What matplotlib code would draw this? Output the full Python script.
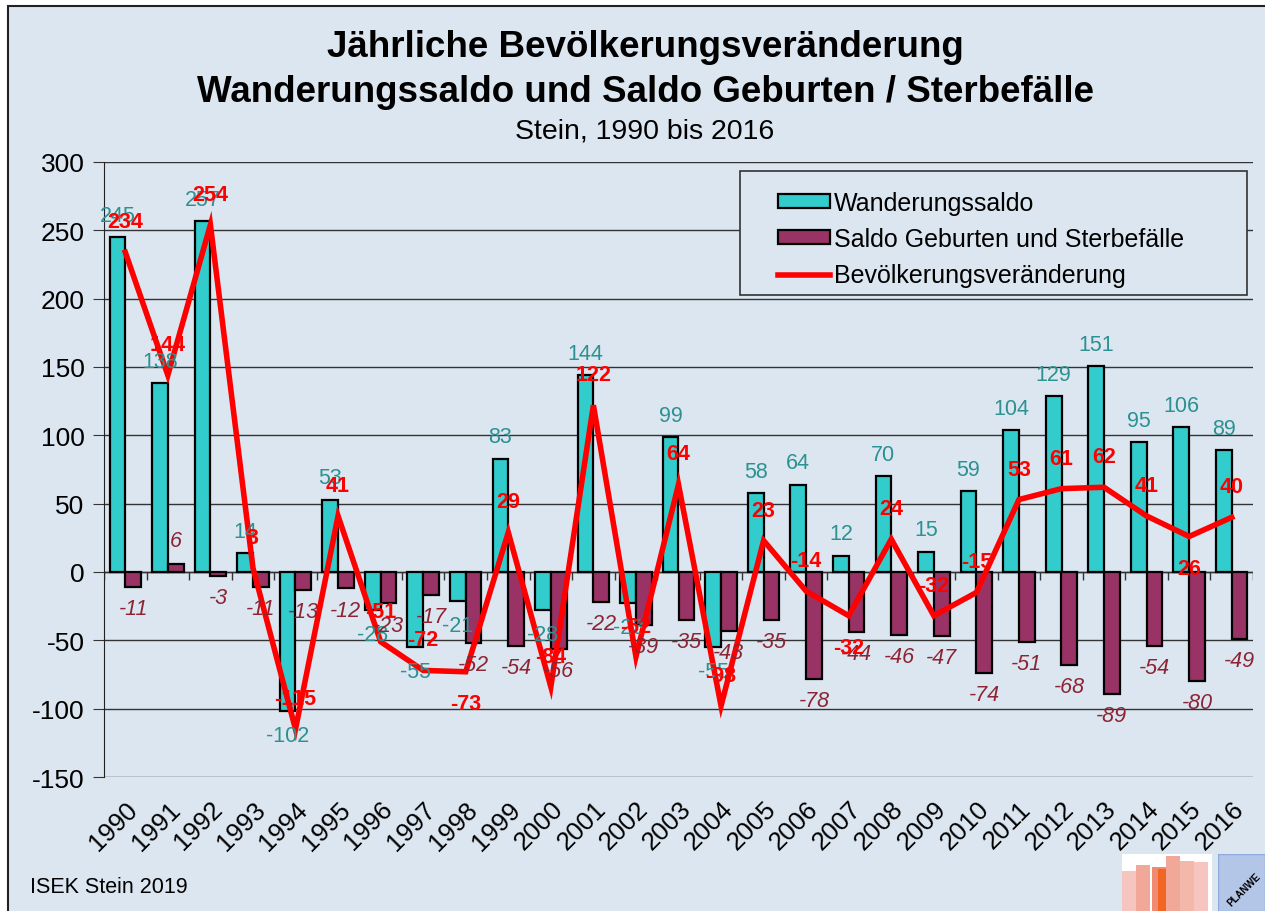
import numpy as np
import matplotlib
matplotlib.use("Agg")
import matplotlib.pyplot as plt
from matplotlib.patches import Rectangle
from matplotlib.lines import Line2D

plt.rcParams['font.family'] = ['Liberation Sans', 'DejaVu Sans']
plt.rcParams['axes.unicode_minus'] = False

years = list(range(1990, 2017))
wanderung = [245, 138, 257, 14, -102, 53, -28, -55, -21, 83, -28, 144, -23, 99,
             -55, 58, 64, 12, 70, 15, 59, 104, 129, 151, 95, 106, 89]
natuerlich = [-11, 6, -3, -11, -13, -12, -23, -17, -52, -54, -56, -22, -39, -35,
              -43, -35, -78, -44, -46, -47, -74, -51, -68, -89, -54, -80, -49]
veraenderung = [234, 144, 254, 3, -115, 41, -51, -72, -73, 29, -84, 122, -62, 64,
                -98, 23, -14, -32, 24, -32, -15, 53, 61, 62, 41, 26, 40]
# line labels that sit below the point instead of above
below_labels = [1998, 2007, 2015]

bg = '#dce6f0'
teal = '#33cccc'
purple = '#993366'
teal_txt = '#2b9191'
purple_txt = '#8c2433'

W, H = 1265, 912
fig = plt.figure(figsize=(W / 100, H / 100), dpi=100, facecolor='white')
frame = Rectangle((8 / W, -0.1), 1.2, 1 - 7 / H + 0.1, transform=fig.transFigure,
                  facecolor=bg, edgecolor='#222222', lw=1.5, zorder=-5)
fig.patches.append(frame)

ax = fig.add_axes([104 / W, 1 - 778 / H, (1253 - 104) / W, (778 - 163) / H])
ax.patch.set_alpha(0)

x = np.arange(len(years))
bw = 0.37
ax.bar(x - bw / 2, wanderung, bw, color=teal, edgecolor='black', lw=1.6, zorder=3)
ax.bar(x + bw / 2, natuerlich, bw, color=purple, edgecolor='black', lw=1.6, zorder=3)
ax.plot(x, veraenderung, color='#ff0000', lw=4, zorder=4, solid_joinstyle='miter')

ax.set_ylim(-150, 300)
ax.set_xlim(-0.5, len(years) - 0.5)
ax.set_yticks(np.arange(-150, 301, 50))
ax.yaxis.grid(True, color='#333333', lw=1)
ax.set_axisbelow(True)
ax.axhline(0, color='#333333', lw=1, zorder=2)
ax.vlines(np.arange(len(years) + 1) - 0.5, -6, 0, color='#333333', lw=1, zorder=2)
for s in ['top', 'right', 'bottom']:
    ax.spines[s].set_visible(False)
ax.spines['left'].set_color('#222222')
ax.tick_params(axis='y', labelsize=19, length=8, color='#333333', pad=6)
ax.set_xticks(x)
ax.set_xticklabels([str(y) for y in years], rotation=45, ha='right', va='top',
                   rotation_mode='anchor', fontsize=18.5)
ax.tick_params(axis='x', length=0, pad=14)

for i in range(len(years)):
    v = wanderung[i]
    ax.annotate(str(v), (x[i] - bw / 2, v), xytext=(0, 8 if v >= 0 else -10),
                textcoords='offset points', ha='center', va='bottom' if v >= 0 else 'top',
                fontsize=15.5, color=teal_txt, zorder=5)
    v = natuerlich[i]
    ax.annotate(str(v), (x[i] + bw / 2, v), xytext=(0, 9 if v >= 0 else -8),
                textcoords='offset points', ha='center', va='bottom' if v >= 0 else 'top',
                fontsize=15.5, color=purple_txt, style='italic', zorder=5)
    v = veraenderung[i]
    off = -23 if years[i] in below_labels else 22
    ax.annotate(str(v), (x[i], v), xytext=(0, off), textcoords='offset points',
                ha='center', va='center', fontsize=15.5, color='#ff0000',
                fontweight='bold', zorder=6)

# legend
fig.patches.append(Rectangle((740 / W, 1 - 296 / H), 507 / W, 124 / H, transform=fig.transFigure,
                             facecolor=bg, edgecolor='#333333', lw=1.2, zorder=5))
handles = [Rectangle((0, 0), 1, 1, facecolor=teal, edgecolor='black', lw=1.6),
           Rectangle((0, 0), 1, 1, facecolor=purple, edgecolor='black', lw=1.6),
           Line2D([], [], color='#ff0000', lw=4)]
leg = fig.legend(handles, ['Wanderungssaldo', 'Saldo Geburten und Sterbefälle',
                           'Bevölkerungsveränderung'],
                 loc='upper left', bbox_to_anchor=(760 / W, 1 - 174 / H), frameon=False,
                 fontsize=18, handlelength=2.1, handleheight=0.5, handletextpad=0.15,
                 labelspacing=0.5, borderpad=0.2)
leg.set_zorder(6)

fig.text(645 / W, 1 - 48 / H, 'Jährliche Bevölkerungsveränderung', ha='center', va='center',
         fontsize=26.5, fontweight='bold')
fig.text(645 / W, 1 - 92 / H, 'Wanderungssaldo und Saldo Geburten / Sterbefälle', ha='center',
         va='center', fontsize=26.5, fontweight='bold')
fig.text(645 / W, 1 - 131 / H, 'Stein, 1990 bis 2016', ha='center', va='center', fontsize=20.5)
fig.text(30 / W, 1 - 888 / H, 'ISEK Stein 2019', ha='left', va='center', fontsize=15.5)

# logos bottom right
lg = fig.add_axes([1122 / W, 0, 90 / W, 57 / H])
lg.set_xlim(0, 90)
lg.set_ylim(0, 57)
lg.axis('off')
lg.add_patch(Rectangle((0, 0), 90, 57, facecolor='white'))
for bx, bh, c in [(0, 40, '#f6c5c0'), (14, 46, '#f2a898'), (30, 44, '#f08a70'),
                  (36, 42, '#f26522'), (44, 55, '#f2a898'), (58, 50, '#f4b8ab'),
                  (72, 49, '#f6c5c0')]:
    lg.add_patch(Rectangle((bx, 0), 14, bh, facecolor=c, edgecolor='none'))
lg2 = fig.add_axes([1218 / W, 0, 47 / W, 57 / H])
lg2.set_xlim(0, 47)
lg2.set_ylim(0, 57)
lg2.axis('off')
lg2.add_patch(Rectangle((0, 0), 47, 57, facecolor='#b4c6e7', edgecolor='#8ea9db'))
lg2.text(8, 4, 'PLANWE', rotation=45, fontsize=7, fontweight='bold', ha='left', va='bottom')

fig.savefig('out.png', dpi=100, facecolor='white')
